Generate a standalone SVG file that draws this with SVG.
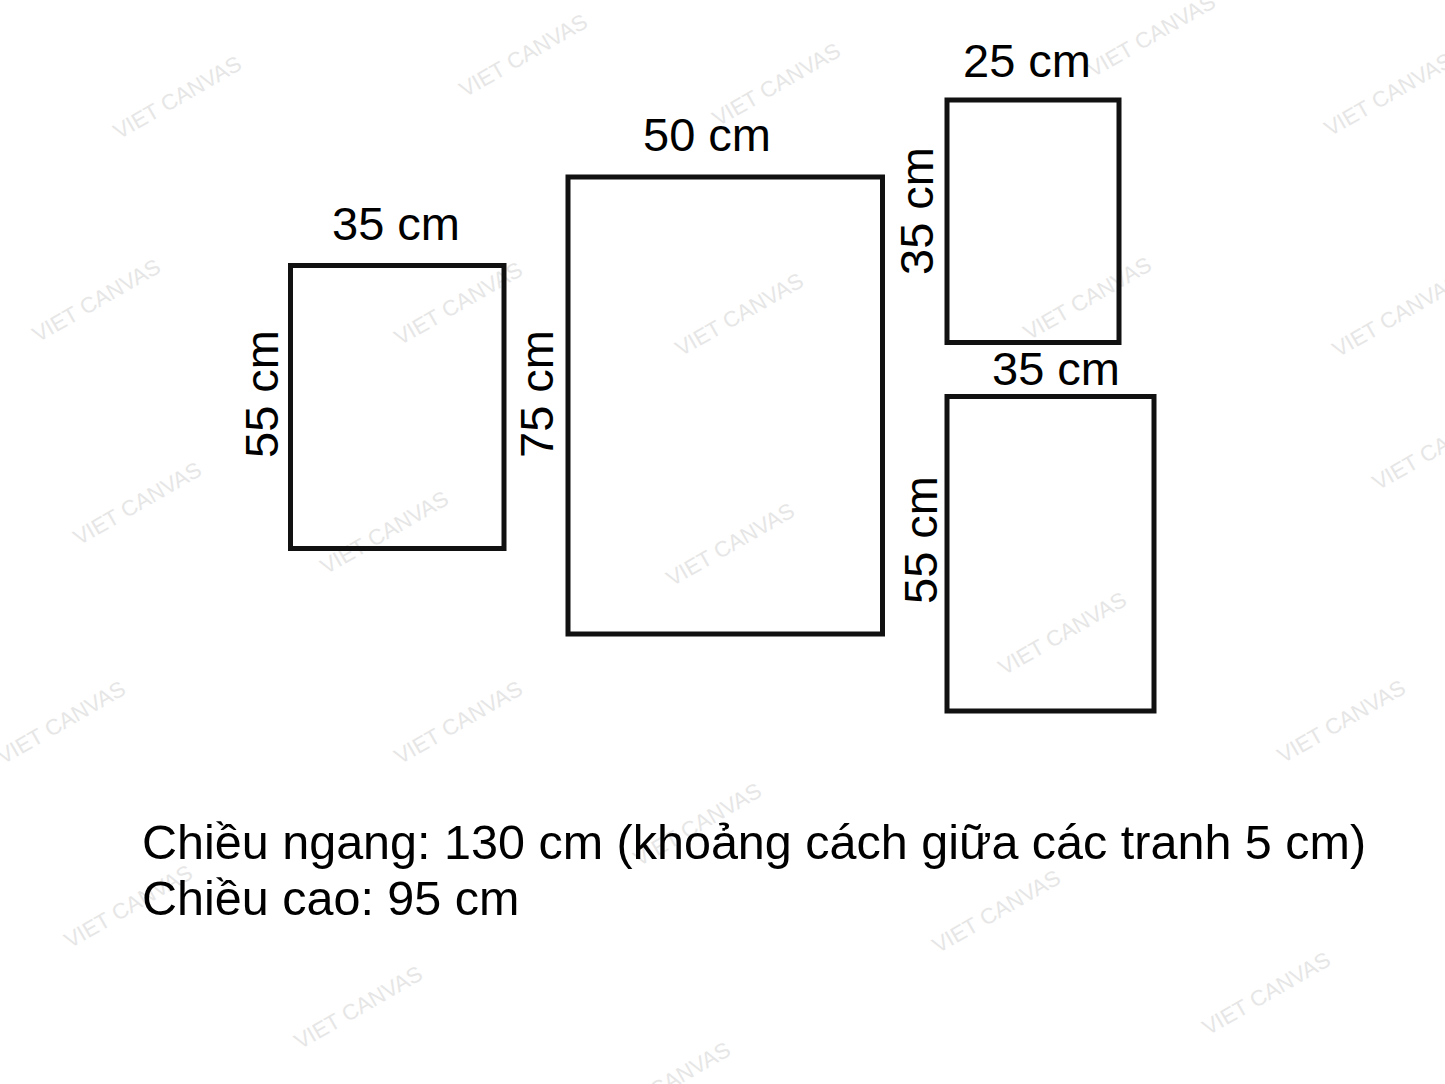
<svg xmlns="http://www.w3.org/2000/svg" width="1445" height="1084" viewBox="0 0 1445 1084">
<style>
.wm{font-family:"Liberation Sans",Arial,sans-serif;font-size:22px;fill:#e6e6e6;text-anchor:middle}
.frame{fill:none;stroke:#111;stroke-width:5}
.lbl{font-family:"Liberation Sans",Arial,sans-serif;font-size:47px;fill:#000;text-anchor:middle}
.cap{font-family:"Liberation Sans",Arial,sans-serif;font-size:48.5px;fill:#000}
</style>
<rect width="1445" height="1084" fill="#fff"/>
<g id="watermarks">
<text class="wm" transform="translate(181,104) rotate(-30)">VIET CANVAS</text>
<text class="wm" transform="translate(527,62) rotate(-30)">VIET CANVAS</text>
<text class="wm" transform="translate(780,91) rotate(-30)">VIET CANVAS</text>
<text class="wm" transform="translate(1155,42) rotate(-30)">VIET CANVAS</text>
<text class="wm" transform="translate(1392,101) rotate(-30)">VIET CANVAS</text>
<text class="wm" transform="translate(100,307) rotate(-30)">VIET CANVAS</text>
<text class="wm" transform="translate(462,310) rotate(-30)">VIET CANVAS</text>
<text class="wm" transform="translate(743,321) rotate(-30)">VIET CANVAS</text>
<text class="wm" transform="translate(1091,305) rotate(-30)">VIET CANVAS</text>
<text class="wm" transform="translate(1400,322) rotate(-30)">VIET CANVAS</text>
<text class="wm" transform="translate(141,510) rotate(-30)">VIET CANVAS</text>
<text class="wm" transform="translate(388,539) rotate(-30)">VIET CANVAS</text>
<text class="wm" transform="translate(734,551) rotate(-30)">VIET CANVAS</text>
<text class="wm" transform="translate(1066,640) rotate(-30)">VIET CANVAS</text>
<text class="wm" transform="translate(1440,455) rotate(-30)">VIET CANVAS</text>
<text class="wm" transform="translate(65,729) rotate(-30)">VIET CANVAS</text>
<text class="wm" transform="translate(462,729) rotate(-30)">VIET CANVAS</text>
<text class="wm" transform="translate(1345,728) rotate(-30)">VIET CANVAS</text>
<text class="wm" transform="translate(701,831) rotate(-30)">VIET CANVAS</text>
<text class="wm" transform="translate(132,913) rotate(-30)">VIET CANVAS</text>
<text class="wm" transform="translate(1000,918) rotate(-30)">VIET CANVAS</text>
<text class="wm" transform="translate(362,1014) rotate(-30)">VIET CANVAS</text>
<text class="wm" transform="translate(1270,1000) rotate(-30)">VIET CANVAS</text>
<text class="wm" transform="translate(670,1090) rotate(-30)">VIET CANVAS</text>
</g>
<g id="panel-left">
<rect class="frame" x="290.5" y="265.5" width="213.5" height="283"/>
<text class="lbl" x="396" y="240">35 cm</text>
<text class="lbl" transform="translate(278,394) rotate(-90)">55 cm</text>
</g>
<g id="panel-center">
<rect class="frame" x="568" y="177" width="314.5" height="457"/>
<text class="lbl" x="707" y="151">50 cm</text>
<text class="lbl" transform="translate(553,394) rotate(-90)">75 cm</text>
</g>
<g id="panel-top-right">
<rect class="frame" x="947" y="100" width="172" height="242.5"/>
<text class="lbl" x="1027" y="77">25 cm</text>
<text class="lbl" transform="translate(933,211) rotate(-90)">35 cm</text>
</g>
<g id="panel-bottom-right">
<rect class="frame" x="947" y="396.5" width="207" height="314.5"/>
<text class="lbl" x="1056" y="385">35 cm</text>
<text class="lbl" transform="translate(937,540) rotate(-90)">55 cm</text>
</g>
<g id="connectors"></g>
<g id="caption">
<text class="cap" x="142" y="859">Chiều ngang: 130 cm (khoảng cách giữa các tranh 5 cm)</text>
<text class="cap" x="142" y="915">Chiều cao: 95 cm</text>
</g>
</svg>
